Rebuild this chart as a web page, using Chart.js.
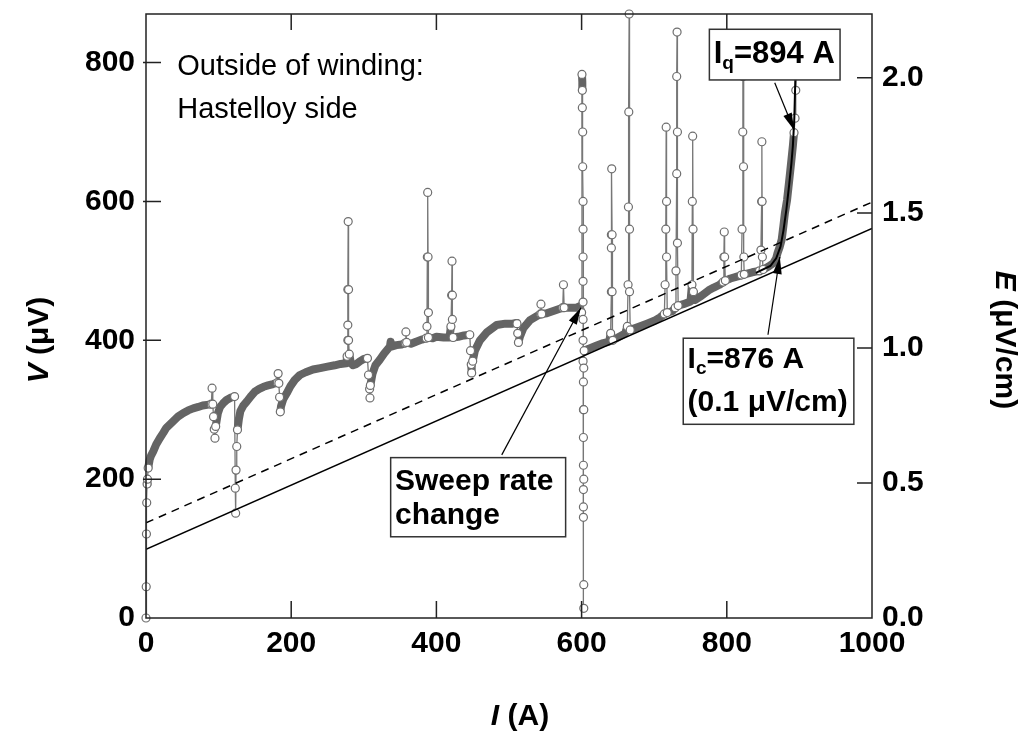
<!DOCTYPE html>
<html>
<head>
<meta charset="utf-8">
<script src="https://cdn.jsdelivr.net/npm/chart.js@4.4.1/dist/chart.umd.min.js"></script>
<style>
  html, body { margin: 0; padding: 0; background: #fff; }
  #wrap { width: 1027px; height: 735px; }
</style>
</head>
<body>
<div id="wrap"><canvas id="vi" width="1027" height="735"></canvas></div>
<script>
// V-I trace of the coil, outer (Hastelloy) side, with the 0.1 uV/cm criterion lines.

const iTicks = [0, 200, 400, 600, 800, 1000];
const iTopTicks = [200, 400, 600, 800];
const vTicks = [0, 200, 400, 600, 800];
const eTicks = [0, 0.5, 1.0, 1.5, 2.0];
const vMax = 870;
const voltsPerE = 389;   // uV per (uV/cm) -> right axis scale

// measured trace, [I (A), V (uV)]
const trace = [
  [0, 0], [0.3, 45], [0.6, 121], [1, 166], [1.5, 193], [2, 200], [3, 216], [5, 228], [7, 234],
  [10, 240], [14, 250], [19, 259], [24, 267], [28, 274], [33, 279], [38, 284], [44, 290], [51, 295],
  [58, 299], [65, 302], [72, 304], [78, 306], [84, 307], [90, 308], [91, 331], [92, 308], [93, 290],
  [94, 272], [95, 259], [96, 276], [99, 295], [102, 304], [106, 309], [111, 314], [116, 317], [122, 319],
  [123, 187], [123.5, 151], [124, 213], [125, 247], [126, 271], [128, 287], [130, 298], [134, 306],
  [139, 312], [145, 320], [150, 326], [156, 330], [162, 333], [168, 335], [175, 337], [181, 339],
  [182, 352], [183, 338], [184, 318], [185, 297], [186, 305], [189, 315], [194, 324], [199, 334],
  [205, 343], [212, 350], [220, 354], [230, 358], [240, 360], [250, 362], [260, 364], [268, 366],
  [276, 367], [277, 377], [278, 400], [278, 422], [278, 473], [278.5, 571], [279, 473], [279, 400],
  [280, 380], [282, 368], [285, 364], [290, 366], [295, 370], [300, 373], [305, 374], [306.5, 350],
  [308, 330], [308.5, 317], [309, 335], [312, 352], [316, 364], [322, 372], [328, 381], [336, 391],
  [337, 398], [338, 391], [345, 393], [352, 394], [357, 396], [358, 412], [359, 397], [365, 395],
  [372, 398], [380, 401], [386, 403], [387, 420], [387.5, 520], [388, 613], [388.5, 520], [389, 440],
  [389, 404], [395, 403], [400, 405], [410, 404], [418, 404], [420, 420], [421, 465], [421.5, 514],
  [422, 465], [422, 430], [423, 404], [430, 405], [438, 407], [446, 408], [447, 385], [448, 365],
  [448.6, 353], [450, 370], [453, 385], [460, 400], [470, 412], [483, 422], [495, 424], [505, 424],
  [510, 425], [511, 424], [512, 410], [513, 397], [515, 405], [520, 418], [529, 429], [540, 436],
  [543.5, 438], [544, 452], [545, 438], [552, 439], [563, 443], [574, 447], [575, 480], [576, 447],
  [585, 447], [593, 447],
  [597, 449], [600, 440], [600.5, 783], [601, 772], [601, 760], [601, 735], [601.5, 700], [601.5, 650],
  [602, 600], [602, 560], [602, 520], [602, 485], [602, 455], [602, 430], [602, 400], [602, 370],
  [602.5, 340], [602.5, 300], [602.5, 260], [602.5, 220], [602.5, 185], [602.5, 160], [602.5, 145],
  [603, 48], [603, 14], [603, 200], [603, 300], [603, 360], [603.5, 385],
  [610, 388], [620, 392], [630, 396], [638, 398], [640, 410], [641, 470], [641, 533], [641, 552],
  [641.5, 647], [642, 552], [642, 470], [643, 400], [650, 404], [660, 410], [663, 420], [664, 480],
  [664.5, 592], [665, 729], [665.5, 870], [666, 560], [666, 470], [667, 415], [675, 418], [690, 424],
  [700, 428], [708, 433], [714, 438], [715, 480], [716, 560], [716.5, 707], [717, 600], [717, 520],
  [718, 440], [725, 442], [729, 447], [730, 500], [731, 640], [731, 780], [731.5, 844], [732, 700],
  [732, 540], [733, 450], [740, 452], [750, 456], [752, 480], [752.5, 600], [753, 694], [753.5, 560],
  [754, 470], [756, 458], [765, 464], [775, 472], [782, 476], [790, 480], [795, 484], [796, 520],
  [796.5, 556], [797, 520], [798, 486], [805, 489], [815, 492], [820, 494], [821, 560], [822, 700],
  [822.3, 780], [822.6, 800], [823, 650], [823.5, 520], [824, 495], [835, 498], [845, 500], [847, 530],
  [848, 600], [848.3, 686], [848.6, 600], [849, 520], [850, 502], [857, 506], [864, 511], [868, 518],
  [870, 526], [873, 535], [875.6, 545], [878, 565], [880, 583], [883, 602], [885, 621], [887, 640],
  [889, 660], [891, 680], [892.6, 699], [894, 720], [895, 760], [896, 800]
];

// black curve drawn over the transition
const fitCurve = [
  [840, 497], [860, 507], [868, 518], [874, 535], [878, 558], [882, 588], [886, 625],
  [889, 655], [891, 680], [893, 720], [895, 800]
];

const baseLine = [[0, 99], [1000, 561]];        // solid
const criterionLine = [[0, 137], [1000, 599]];  // dashed, +0.1 uV/cm

const FONT = '"Liberation Sans", Arial, Helvetica, sans-serif';
const GRAY = "#646464";

const toXY = (arr) => arr.map(([i, v]) => ({ x: i, y: v }));

// a step is a "spike" (thin line + markers) when it is steep; otherwise it's the dense band
const steep = (a, b) => {
  const dv = Math.abs(b[1] - a[1]);
  const di = Math.abs(b[0] - a[0]);
  return dv > 12 && dv / Math.max(di, 0.1) > 12;
};
const isJump = (i) => {
  const p = trace[i - 1], n = trace[i + 1];
  return (p && steep(p, trace[i])) || (n && steep(trace[i], n));
};

// callouts in data units (I, V)
const callouts = {
  note: { i: 43, lines: [[793, "Outside of winding:"], [732, "Hastelloy side"]] },
  iq: { box: [776, 956, 848, 775], textAt: [782, 812], arrow: [866, 771, 892.6, 703] },
  ic: { box: [740, 975, 403, 279], lines: [372, 310], textI: 746, arrow: [856.7, 408, 873, 520] },
  sweep: { box: [337, 578, 231, 117], lines: [[196, "Sweep rate"], [148, "change"]], textI: 343,
           arrow: [490, 235, 599, 447] },
};

function drawRuns(ctx, runs, x, y, align) {
  let w = 0;
  runs.forEach((r) => { ctx.font = r.f; r.w = ctx.measureText(r.t).width; w += r.w; });
  let cx = align === "center" ? x - w / 2 : x;
  runs.forEach((r) => {
    ctx.font = r.f;
    ctx.fillText(r.t, cx, y + (r.dy || 0));
    cx += r.w;
  });
}

function arrow(ctx, x0, y0, x1, y1) {
  ctx.beginPath();
  ctx.moveTo(x0, y0);
  ctx.lineTo(x1, y1);
  ctx.lineWidth = 1.2;
  ctx.strokeStyle = "#000";
  ctx.stroke();
  const a = Math.atan2(y1 - y0, x1 - x0);
  const len = 17, half = 4.5;
  ctx.beginPath();
  ctx.moveTo(x1, y1);
  ctx.lineTo(x1 - len * Math.cos(a) + half * Math.sin(a), y1 - len * Math.sin(a) - half * Math.cos(a));
  ctx.lineTo(x1 - len * Math.cos(a) - half * Math.sin(a), y1 - len * Math.sin(a) + half * Math.cos(a));
  ctx.closePath();
  ctx.fillStyle = "#000";
  ctx.fill();
}

function box(ctx, px, py, b) {
  const l = px(b[0]), r = px(b[1]), t = py(b[2]), btm = py(b[3]);
  ctx.fillStyle = "#fff";
  ctx.fillRect(l, t, r - l, btm - t);
  ctx.lineWidth = 1.5;
  ctx.strokeStyle = "#333";
  ctx.strokeRect(l, t, r - l, btm - t);
}

const decor = {
  id: "decor",
  afterDraw(chart) {
    const { ctx, chartArea: a, scales } = chart;
    const px = (v) => scales.x.getPixelForValue(v);
    const py = (v) => scales.y.getPixelForValue(v);
    const pe = (v) => scales.yE.getPixelForValue(v);
    ctx.save();

    // frame
    ctx.strokeStyle = "#222";
    ctx.lineWidth = 1.5;
    ctx.strokeRect(a.left, a.top, a.right - a.left, a.bottom - a.top);

    // inward ticks
    ctx.beginPath();
    vTicks.slice(1).forEach((v) => { ctx.moveTo(a.left - 3, py(v)); ctx.lineTo(a.left + 15, py(v)); });
    eTicks.slice(1).forEach((v) => { ctx.moveTo(a.right - 15, pe(v)); ctx.lineTo(a.right, pe(v)); });
    iTicks.slice(1, -1).forEach((v) => { ctx.moveTo(px(v), a.bottom); ctx.lineTo(px(v), a.bottom - 17); });
    iTopTicks.forEach((v) => { ctx.moveTo(px(v), a.top); ctx.lineTo(px(v), a.top + 16); });
    ctx.stroke();

    ctx.fillStyle = "#000";
    ctx.textBaseline = "middle";

    // axis titles
    drawRuns(ctx, [{ t: "I", f: `italic bold 30px ${FONT}` }, { t: " (A)", f: `bold 30px ${FONT}` }], 520, 717, "center");
    ctx.save();
    ctx.translate(40, 340);
    ctx.rotate(-Math.PI / 2);
    drawRuns(ctx, [{ t: "V", f: `italic bold 30px ${FONT}` }, { t: " (\u03bcV)", f: `bold 30px ${FONT}` }], 0, 0, "center");
    ctx.restore();
    ctx.save();
    ctx.translate(1004, 340);
    ctx.rotate(Math.PI / 2);
    drawRuns(ctx, [{ t: "E", f: `italic bold 30px ${FONT}` }, { t: " (\u03bcV/cm)", f: `bold 30px ${FONT}` }], 0, 0, "center");
    ctx.restore();

    // note
    ctx.font = `29px ${FONT}`;
    ctx.textAlign = "left";
    callouts.note.lines.forEach(([v, t]) => ctx.fillText(t, px(callouts.note.i), py(v)));

    // Iq
    const q = callouts.iq;
    arrow(ctx, px(q.arrow[0]), py(q.arrow[1]), px(q.arrow[2]), py(q.arrow[3]));
    box(ctx, px, py, q.box);
    ctx.fillStyle = "#000";
    drawRuns(ctx, [
      { t: "I", f: `bold 31px ${FONT}` },
      { t: "q", f: `bold 19px ${FONT}`, dy: 9 },
      { t: "=894 A", f: `bold 31px ${FONT}` },
    ], px(q.textAt[0]), py(q.textAt[1]), "left");

    // Ic
    const c = callouts.ic;
    arrow(ctx, px(c.arrow[0]), py(c.arrow[1]), px(c.arrow[2]), py(c.arrow[3]));
    box(ctx, px, py, c.box);
    ctx.fillStyle = "#000";
    drawRuns(ctx, [
      { t: "I", f: `bold 30px ${FONT}` },
      { t: "c", f: `bold 19px ${FONT}`, dy: 9 },
      { t: "=876 A", f: `bold 30px ${FONT}` },
    ], px(c.textI), py(c.lines[0]), "left");
    drawRuns(ctx, [{ t: "(0.1 \u03bcV/cm)", f: `bold 30px ${FONT}` }], px(c.textI), py(c.lines[1]), "left");

    // sweep rate change
    const s = callouts.sweep;
    arrow(ctx, px(s.arrow[0]), py(s.arrow[1]), px(s.arrow[2]), py(s.arrow[3]));
    box(ctx, px, py, s.box);
    ctx.fillStyle = "#000";
    ctx.font = `bold 30px ${FONT}`;
    s.lines.forEach(([v, t]) => ctx.fillText(t, px(s.textI), py(v)));

    ctx.restore();
  },
};

const tickFont = { family: FONT, size: 30, weight: "bold" };
const noPadV = (s) => { s.paddingTop = 0; s.paddingBottom = 0; };
const segSteep = (c) => steep([c.p0.parsed.x, c.p0.parsed.y], [c.p1.parsed.x, c.p1.parsed.y]);

new Chart(document.getElementById("vi"), {
  type: "scatter",
  data: {
    datasets: [
      {
        label: "fit",
        data: toXY(fitCurve),
        showLine: true,
        borderColor: "#000",
        borderWidth: 2,
        pointRadius: 0,
        order: 0,
      },
      {
        label: "base",
        data: toXY(baseLine),
        showLine: true,
        borderColor: "#000",
        borderWidth: 1.5,
        pointRadius: 0,
        order: 1,
      },
      {
        label: "criterion",
        data: toXY(criterionLine),
        showLine: true,
        borderColor: "#000",
        borderWidth: 1.5,
        borderDash: [8, 6],
        pointRadius: 0,
        order: 1,
      },
      {
        label: "V",
        data: toXY(trace),
        showLine: true,
        clip: 6,
        borderColor: GRAY,
        borderCapStyle: "round",
        borderJoinStyle: "round",
        segment: {
          borderWidth: (c) => (segSteep(c) ? 1.3 : 8),
          borderColor: (c) => (segSteep(c) ? "#777" : GRAY),
        },
        pointRadius: (c) => (isJump(c.dataIndex) ? 4 : 0),
        pointBorderWidth: 1.2,
        pointBorderColor: "#6e6e6e",
        pointBackgroundColor: "#fff",
        order: 2,
      },
    ],
  },
  options: {
    responsive: false,
    devicePixelRatio: 1,
    animation: false,
    layout: { padding: { top: 14, left: 0, right: 0, bottom: 0 } },
    plugins: { legend: { display: false }, tooltip: { enabled: false } },
    scales: {
      x: {
        type: "linear",
        position: "bottom",
        min: 0,
        max: 1000,
        grid: { display: false, drawTicks: false },
        border: { display: false },
        afterBuildTicks: (s) => { s.ticks = iTicks.map((v) => ({ value: v })); },
        afterFit: (s) => { s.height = 117; s.paddingLeft = 0; s.paddingRight = 0; },
        ticks: { font: tickFont, color: "#000", padding: 8, maxRotation: 0, callback: (v) => String(v) },
      },
      y: {
        type: "linear",
        position: "left",
        min: 0,
        max: vMax,
        grid: { display: false, drawTicks: false },
        border: { display: false },
        afterBuildTicks: (s) => { s.ticks = vTicks.map((v) => ({ value: v })); },
        afterFit: (s) => { s.width = 146; noPadV(s); },
        ticks: { font: tickFont, color: "#000", padding: 11, callback: (v) => String(v) },
      },
      yE: {
        type: "linear",
        position: "right",
        min: 0,
        max: vMax / voltsPerE,
        grid: { display: false, drawTicks: false },
        border: { display: false },
        afterBuildTicks: (s) => { s.ticks = eTicks.map((v) => ({ value: v })); },
        afterFit: (s) => { s.width = 155; noPadV(s); },
        ticks: { font: tickFont, color: "#000", padding: 10, callback: (v) => v.toFixed(1) },
      },
    },
  },
  plugins: [decor],
});
</script>
</body>
</html>
